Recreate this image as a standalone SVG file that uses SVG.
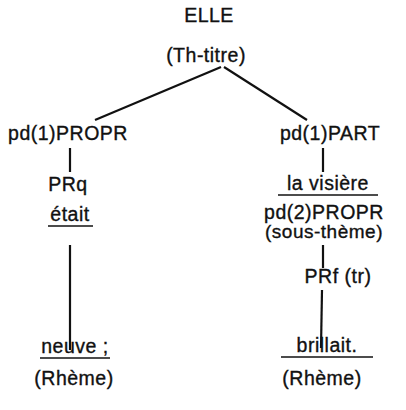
<svg xmlns="http://www.w3.org/2000/svg" width="406" height="410" viewBox="0 0 406 410">
  <style>
    text { font-family: "Liberation Sans", Arial, sans-serif; font-size: 19.5px; fill: #111; stroke: #111; stroke-width: 0.35px; text-anchor: middle; letter-spacing: 0.5px; }
    .edge { stroke: #111; stroke-width: 2.2; fill: none; stroke-linecap: butt; }
    .ul { stroke: #111; stroke-width: 1.7; }
  </style>
  <rect width="406" height="410" fill="#fff"/>

  <g id="connectors">
    <line class="edge" x1="221" y1="67" x2="95" y2="120"/>
    <line class="edge" x1="224" y1="67" x2="307" y2="120"/>
    <line class="edge" x1="70" y1="148" x2="70" y2="172"/>
    <line class="edge" x1="70" y1="245" x2="70" y2="350"/>
    <line class="edge" x1="323" y1="148" x2="323" y2="172"/>
    <line class="edge" x1="323" y1="245" x2="323" y2="268"/>
    <line class="edge" x1="322" y1="290" x2="321" y2="348"/>
  </g>

  <g id="elle">
    <text x="209" y="22">ELLE</text>
    <text x="206" y="62">(Th-titre)</text>
  </g>

  <g id="pd1-propr">
    <text x="68" y="140">pd(1)PROPR</text>
  </g>
  <g id="prq">
    <text x="68" y="191">PRq</text>
  </g>
  <g id="etait">
    <text x="70" y="221">était</text>
    <line class="ul" x1="48" y1="226" x2="93" y2="226"/>
  </g>
  <g id="neuve">
    <text x="75" y="353">neuve ;</text>
    <line class="ul" x1="40" y1="358" x2="110" y2="358"/>
    <text x="74" y="385">(Rhème)</text>
  </g>

  <g id="pd1-part">
    <text x="330" y="140">pd(1)PART</text>
  </g>
  <g id="la-visiere">
    <text x="328" y="190">la visière</text>
    <line class="ul" x1="278" y1="195" x2="378" y2="195"/>
  </g>
  <g id="pd2-propr">
    <text x="324" y="219">pd(2)PROPR</text>
    <text x="324" y="238" style="font-size:19px">(sous-thème)</text>
  </g>
  <g id="prf">
    <text x="338" y="283">PRf (tr)</text>
  </g>
  <g id="brillait">
    <text x="327" y="352">brillait.</text>
    <line class="ul" x1="281" y1="357" x2="373" y2="357"/>
    <text x="322" y="385">(Rhème)</text>
  </g>
</svg>
